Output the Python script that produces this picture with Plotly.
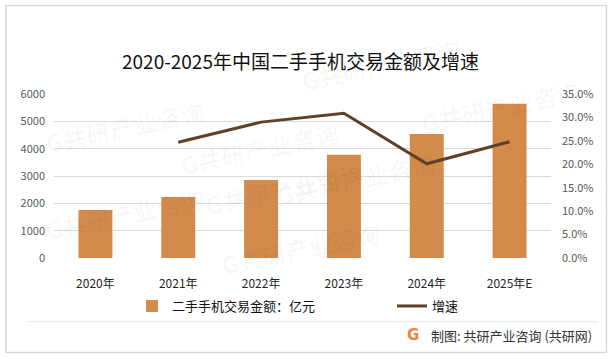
import plotly.graph_objects as go

categories = ["2020年", "2021年", "2022年", "2023年", "2024年", "2025年E"]
amount = [1760, 2235, 2855, 3775, 4540, 5640]
growth_years = ["2021年", "2022年", "2023年", "2024年", "2025年E"]
growth = [0.247, 0.290, 0.309, 0.201, 0.248]
left_ticks = [0, 1000, 2000, 3000, 4000, 5000, 6000]
right_ticks = [0, 0.05, 0.10, 0.15, 0.20, 0.25, 0.30, 0.35]

W, H = 612, 359
L, R, T, B = 54, 551, 94, 258  # plot area in px


def px(x):
    return (x - L) / (R - L)


def py(y):
    return (B - y) / (B - T)


FONT = "Noto Sans CJK SC"
BAR_C = "#D38B4C"
LINE_C = "#5F412A"

fig = go.Figure()
fig.add_trace(go.Bar(
    x=categories, y=amount, name="二手手机交易金额：亿元",
    marker=dict(color=BAR_C, line=dict(width=0)), legend="legend",
))
fig.add_trace(go.Scatter(
    x=growth_years, y=growth, name="增速", yaxis="y2", mode="lines",
    line=dict(color=LINE_C, width=3), legend="legend2",
))

shapes = [
    dict(type="rect", xref="paper", yref="paper", x0=px(6), x1=px(606.5),
         y0=py(352.5), y1=py(5.5), line=dict(color="#D9D9D9", width=1.5),
         layer="below"),
    dict(type="line", xref="paper", yref="paper", x0=px(28), x1=px(598),
         y0=py(321.7), y1=py(321.7), line=dict(color="#E6E6E6", width=1)),
]

annotations = []
# faint watermarks
wm = [(175, 112), (200, 188), (440, 215), (300, 285), (380, 28), (585, 70),
      (40, 90), (40, 250)]
for (x, y) in wm:
    annotations.append(dict(
        text="<b>G共研产业咨询</b>", x=px(x), y=py(y), xref="paper", yref="paper",
        showarrow=False, textangle=-12, font=dict(size=24, color="rgba(0,0,0,0.028)", family=FONT)))
    annotations.append(dict(
        text="w  w  w  .  g  o  n  y  n  .  c  o  m", x=px(x + 5), y=py(y + 25), xref="paper", yref="paper",
        showarrow=False, textangle=-12, font=dict(size=13, color="rgba(0,0,0,0.028)", family=FONT)))

annotations += [
    dict(text="<b>G</b>", x=px(413), y=py(335), xref="paper", yref="paper", showarrow=False,
         font=dict(size=15, color="#F0803C", family="DejaVu Sans"), xanchor="center", yanchor="middle"),
    dict(text="制图: 共研产业咨询 (共研网)", x=px(429), y=py(335), xref="paper", yref="paper",
         showarrow=False, xanchor="left", yanchor="middle",
         font=dict(size=13, color="#333333", family=FONT)),
]

fig.update_layout(
    width=W, height=H,
    margin=dict(l=L, r=W - R, t=T, b=H - B),
    paper_bgcolor="white", plot_bgcolor="white",
    title=dict(text="2020-2025年中国二手手机交易金额及增速", x=0.491, xref="container",
               xanchor="center", y=1 - 62 / H, yanchor="middle",
               font=dict(size=19, color="#111111", family=FONT)),
    bargap=0.59,
    xaxis=dict(type="category", categoryorder="array", categoryarray=categories,
               showgrid=False, showline=False, ticks="", zeroline=False,
               ticklabelstandoff=17,
               tickfont=dict(size=12, color="#262626", family=FONT)),
    yaxis=dict(range=[0, 6000], tickvals=left_ticks, showgrid=True, gridcolor="#D9D9D9",
               gridwidth=1, zeroline=False, showline=False, ticks="",
               ticklabelstandoff=8,
               tickfont=dict(size=11, color="#595959", family=FONT)),
    yaxis2=dict(range=[0, 0.35], tickvals=right_ticks, tickformat=".1%", overlaying="y",
                side="right", showgrid=False, zeroline=False, showline=False, ticks="",
                ticklabelstandoff=10,
                tickfont=dict(size=11, color="#595959", family=FONT)),
    legend=dict(orientation="h", x=px(132), xanchor="left", y=py(306), yanchor="middle",
                font=dict(size=13, color="#111111", family=FONT),
                bgcolor="rgba(0,0,0,0)"),
    legend2=dict(orientation="h", x=px(392), xanchor="left", y=py(306), yanchor="middle",
                 font=dict(size=13, color="#111111", family=FONT),
                 bgcolor="rgba(0,0,0,0)"),
    shapes=shapes,
    annotations=annotations,
    showlegend=True,
)

fig.write_html("out.html", config={"displayModeBar": False},
               post_script="document.body.style.margin='0';")
